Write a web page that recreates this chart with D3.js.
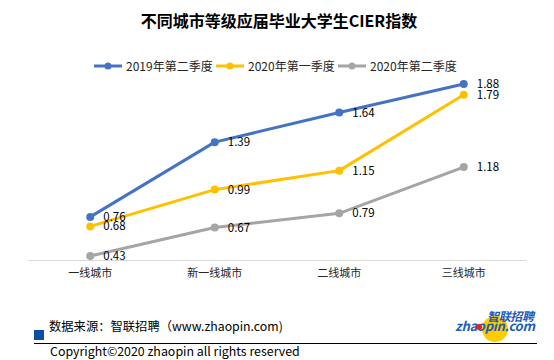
<!DOCTYPE html>
<html><head><meta charset="utf-8">
<script src="https://cdn.jsdelivr.net/npm/d3@7/dist/d3.min.js"></script>
<style>
html,body{margin:0;padding:0;background:#fff;}
svg{display:block;}
text{font-family:"Noto Sans CJK SC","Microsoft YaHei",sans-serif;}
</style></head>
<body>
<svg id="c" width="554" height="360"></svg>
<script>
const categories = ["一线城市","新一线城市","二线城市","三线城市"];
const seriesNames = ["2019年第二季度","2020年第一季度","2020年第二季度"];
const series2019Q2 = [0.76,1.39,1.64,1.88];
const series2020Q1 = [0.68,0.99,1.15,1.79];
const series2020Q2 = [0.43,0.67,0.79,1.18];
const seriesColors = ["#4472C4","#FFC000","#A5A5A5"];
const yDomain = [0.4, 2.0];

const allSeries = [series2019Q2, series2020Q1, series2020Q2].map((v,i)=>({name:seriesNames[i], values:v, color:seriesColors[i]}));

const svg = d3.select("#c");
const x = d3.scaleBand().domain(categories).range([28,526]);
const y = d3.scaleLinear().domain(yDomain).range([259.6,69.8]);
const cx = c => x(c) + x.bandwidth()/2;

// title
svg.append("text").attr("x",279).attr("y",27).attr("text-anchor","middle")
  .attr("font-size",16).attr("font-weight","bold").attr("fill","#000")
  .text("不同城市等级应届毕业大学生CIER指数");

// legend
const legendX = [94,216,338];
allSeries.forEach((s,i)=>{
  const g = svg.append("g").attr("transform",`translate(${legendX[i]},66)`);
  g.append("line").attr("x1",0).attr("x2",28).attr("y1",0).attr("y2",0).attr("stroke",s.color).attr("stroke-width",3);
  g.append("circle").attr("cx",14).attr("cy",0).attr("r",3.5).attr("fill",s.color);
  g.append("text").attr("x",32).attr("y",4.5).attr("font-size",12).attr("fill","#262626").text(s.name);
});

// x axis
const xAxis = d3.axisBottom(x).tickSize(0).tickPadding(9);
const ax = svg.append("g").attr("transform","translate(0,260)").call(xAxis);
ax.select(".domain").attr("stroke","#D9D9D9").attr("stroke-width",1);
ax.selectAll("text").attr("font-size",11).attr("fill","#262626")
  .attr("font-family",'"Noto Sans CJK SC",sans-serif');

// lines
const line = d3.line().x((d,i)=>cx(categories[i])).y(d=>y(d));
allSeries.forEach(s=>{
  svg.append("path").attr("d",line(s.values)).attr("fill","none")
    .attr("stroke",s.color).attr("stroke-width",3).attr("stroke-linejoin","round");
});
allSeries.forEach(s=>{
  svg.selectAll(null).data(s.values).enter().append("circle")
    .attr("cx",(d,i)=>cx(categories[i])).attr("cy",d=>y(d)).attr("r",4).attr("fill",s.color);
  svg.selectAll(null).data(s.values).enter().append("text")
    .attr("x",(d,i)=>cx(categories[i])+13).attr("y",d=>y(d)+4)
    .attr("font-size",11.5).attr("fill","#000").text(d=>d.toFixed(2));
});

// footer
svg.append("rect").attr("x",34).attr("y",330).attr("width",10).attr("height",10).attr("fill","#0B4EA2");
svg.append("text").attr("x",49).attr("y",331).attr("font-size",12.3).attr("fill","#000")
  .text("数据来源：智联招聘（www.zhaopin.com)");
svg.append("line").attr("x1",34).attr("x2",537).attr("y1",343.5).attr("y2",343.5).attr("stroke","#000").attr("stroke-width",1);
svg.append("text").attr("x",50).attr("y",356).attr("font-size",12.4).attr("fill","#000")
  .attr("font-family",'"Open Sans","Noto Sans",sans-serif')
  .text("Copyright©2020 zhaopin all rights reserved");

// logo
const logo = svg.append("g");
logo.append("circle").attr("cx",495).attr("cy",329).attr("r",13).attr("fill","#FFCC00");
logo.append("text").attr("x",455).attr("y",331).attr("font-size",13).attr("font-weight","bold")
  .attr("font-style","italic").attr("fill","#1C5DB5").attr("font-family",'"DejaVu Sans",sans-serif')
  .attr("textLength",80).text("zhaopin.com");
logo.append("circle").attr("cx",479).attr("cy",327).attr("r",3).attr("fill","#D8242A");
logo.append("text").attr("x",487).attr("y",321).attr("font-size",12).attr("font-weight","bold")
  .attr("font-style","italic").attr("fill","#1C5DB5").attr("textLength",47).text("智联招聘");
</script>
</body></html>
